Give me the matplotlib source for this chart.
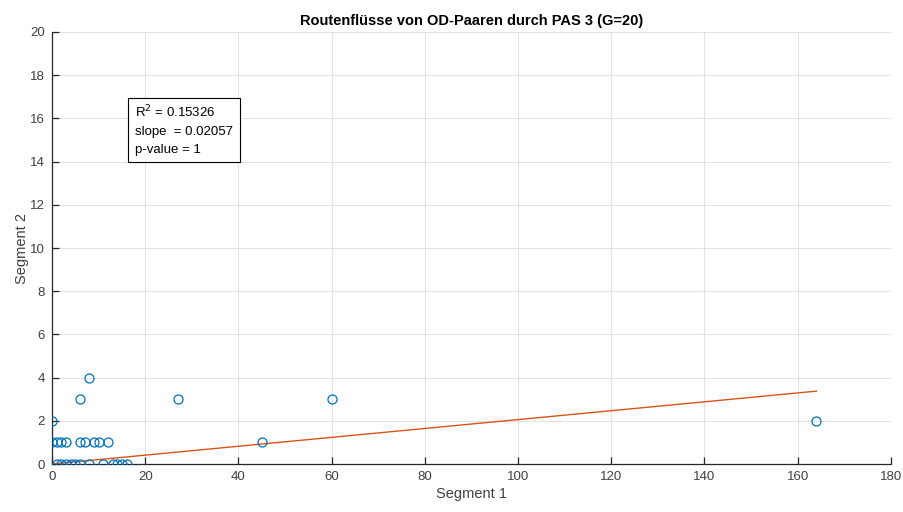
import numpy as np
import matplotlib.pyplot as plt

plt.rcParams['font.family'] = ['Liberation Sans', 'DejaVu Sans']

# Route flows per OD pair on segment 1 vs segment 2
seg1 = [0, 1, 2, 3, 6, 7, 9, 10, 12,
        1, 2, 3, 4, 5, 6, 8, 11, 13, 14, 15, 16,
        0, 6, 8, 27, 45, 60, 164]
seg2 = [1, 1, 1, 1, 1, 1, 1, 1, 1,
        0, 0, 0, 0, 0, 0, 0, 0, 0, 0, 0, 0,
        2, 3, 4, 3, 1, 3, 2]

r_squared = 0.15326
slope = 0.02057
p_value = 1

blue = '#0072BD'
orange = '#D95319'
dark = '#262626'

fig = plt.figure(figsize=(9.04, 5.12), dpi=100)
ax = fig.add_axes([0.0575, 0.0937, 0.928, 0.8438])

ax.plot(seg1, seg2, 'o', mfc='none', mec=blue, ms=6.5, mew=0.9, zorder=3)

x_fit = np.array([min(seg1), max(seg1)])
ax.plot(x_fit, slope * x_fit, color=orange, lw=1.0, zorder=2)

ax.set_xlim(0, 180)
ax.set_ylim(0, 20)
ax.set_xticks(range(0, 181, 20))
ax.set_yticks(range(0, 21, 2))
ax.grid(True, color='#e3e3e3', lw=0.8)
ax.set_axisbelow(True)

for side in ('top', 'right'):
    ax.spines[side].set_visible(False)
for side in ('left', 'bottom'):
    ax.spines[side].set_color(dark)
    ax.spines[side].set_linewidth(0.9)
ax.tick_params(direction='in', length=5, width=0.9, color=dark,
               labelcolor='#404040', labelsize=9.5, pad=5)

ax.set_xlabel('Segment 1', fontsize=10.5, color='#404040', labelpad=3)
ax.set_ylabel('Segment 2', fontsize=10.5, color='#404040', labelpad=1)
ax.set_title('Routenflüsse von OD-Paaren durch PAS 3 (G=20)',
             fontsize=10.5, fontweight='bold', color='black', pad=5)

stats = (f'R$^2$ = {r_squared}\n'
         f'slope  = {slope}\n'
         f'p-value = {p_value}')
ax.text(0.099, 0.833, stats, transform=ax.transAxes, fontsize=9.5,
        va='top', ha='left', linespacing=1.6,
        bbox=dict(boxstyle='square,pad=0.5', fc='white', ec='black', lw=0.8))

fig.savefig('out.png', dpi=100)
